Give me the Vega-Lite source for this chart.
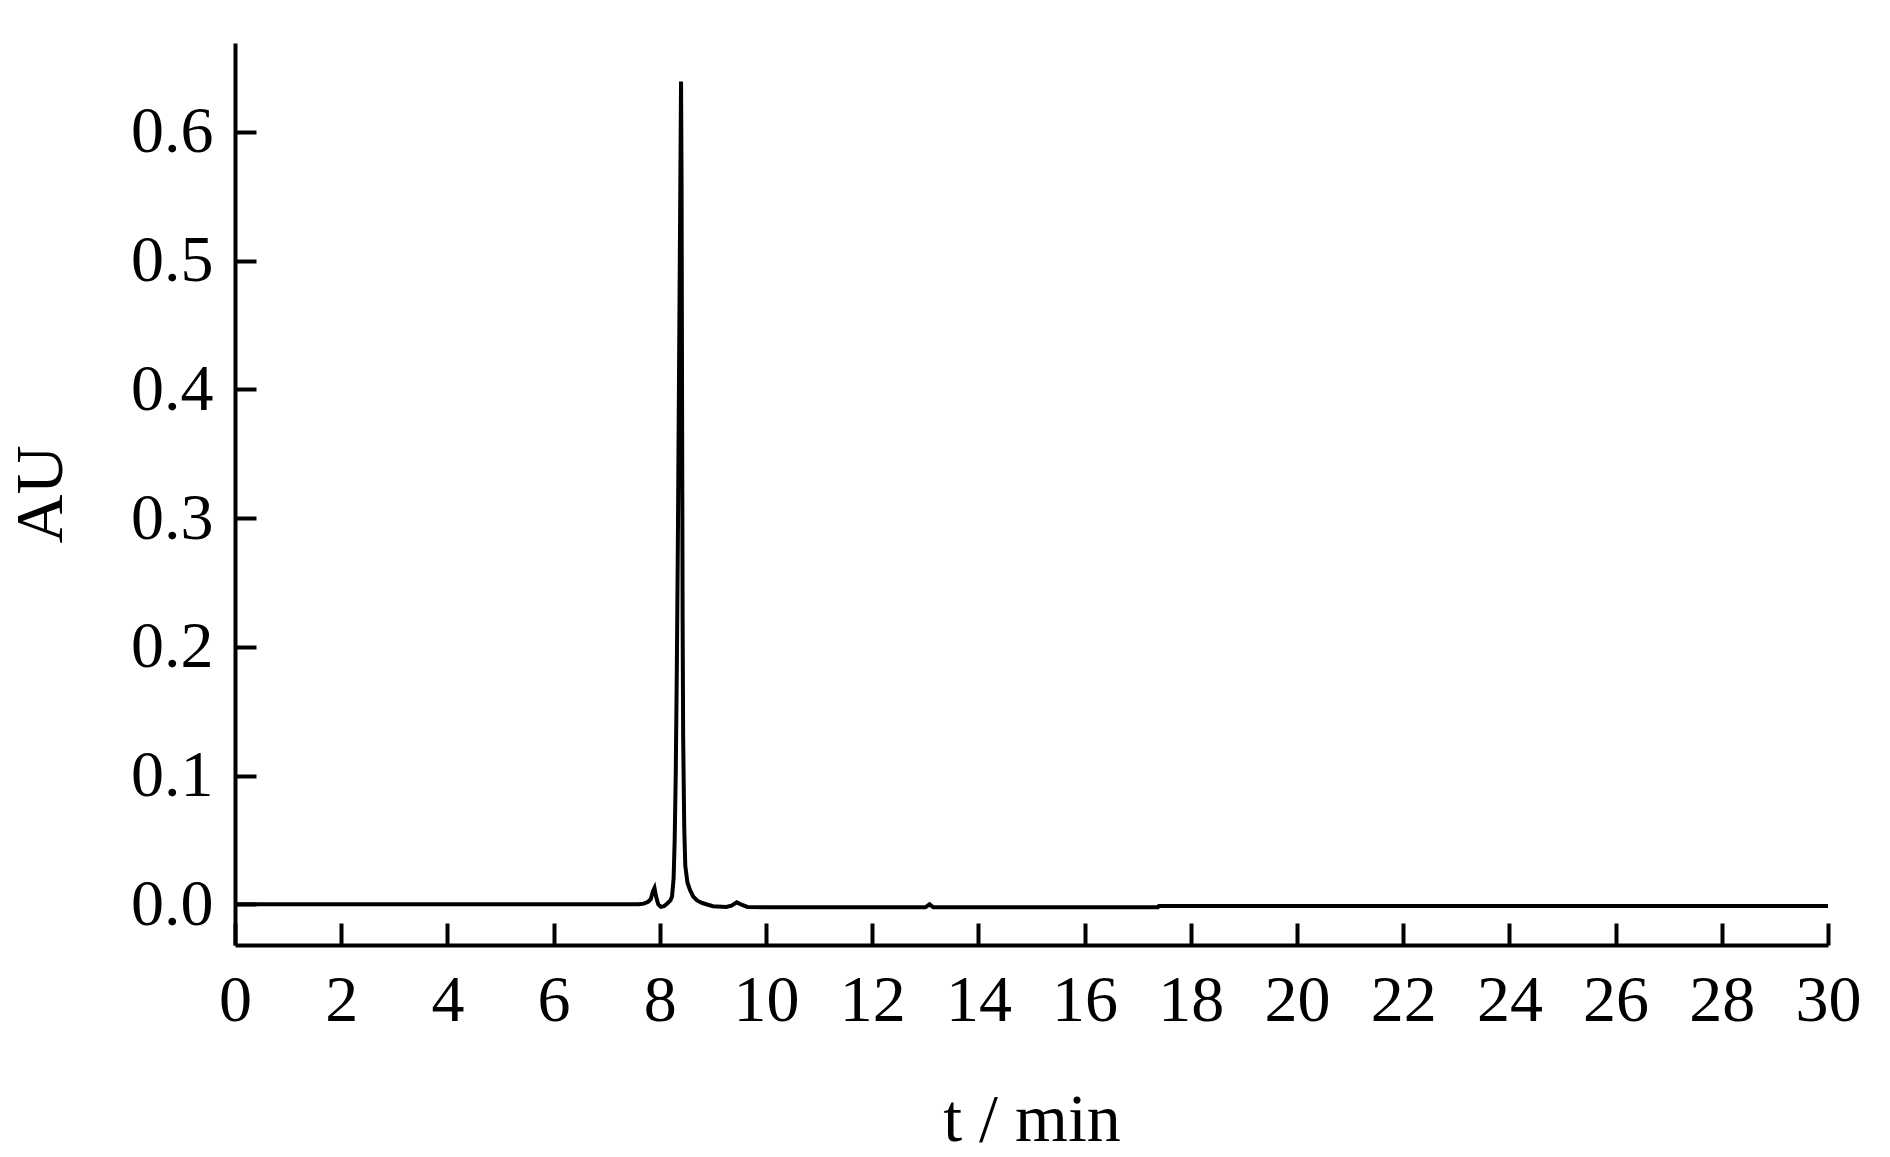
{
  "$schema": "https://vega.github.io/schema/vega-lite/v6.json",
  "autosize": {"type": "none"},
  "width": 1593,
  "height": 902,
  "padding": {"left": 235, "top": 43, "right": 62, "bottom": 212},
  "background": "white",
  "config": {
    "view": {"stroke": null},
    "font": "Liberation Serif",
    "axis": {
      "grid": false,
      "domainColor": "black",
      "domainWidth": 4,
      "tickColor": "black",
      "tickWidth": 4,
      "labelColor": "black",
      "titleColor": "black",
      "labelFont": "Liberation Serif",
      "titleFont": "Liberation Serif",
      "labelFontSize": 66,
      "titleFontSize": 68,
      "titleFontWeight": "normal"
    }
  },
  "data": {
    "values": [
      {"t": 0, "au": 0},
      {"t": 2, "au": 0},
      {"t": 4, "au": 0},
      {"t": 6, "au": 0},
      {"t": 7.6, "au": 0},
      {"t": 7.7, "au": 0.0005},
      {"t": 7.78, "au": 0.002},
      {"t": 7.83, "au": 0.004},
      {"t": 7.87, "au": 0.01},
      {"t": 7.9, "au": 0.0127},
      {"t": 7.93, "au": 0.006},
      {"t": 7.97, "au": 0.0},
      {"t": 8.02, "au": -0.002},
      {"t": 8.08, "au": -0.0015},
      {"t": 8.15, "au": 0.001},
      {"t": 8.2, "au": 0.003},
      {"t": 8.23, "au": 0.006},
      {"t": 8.26, "au": 0.02},
      {"t": 8.28, "au": 0.05},
      {"t": 8.3, "au": 0.1},
      {"t": 8.32, "au": 0.18},
      {"t": 8.34, "au": 0.28},
      {"t": 8.36, "au": 0.4},
      {"t": 8.38, "au": 0.52},
      {"t": 8.4, "au": 0.639},
      {"t": 8.41, "au": 0.56},
      {"t": 8.42, "au": 0.38},
      {"t": 8.43, "au": 0.22},
      {"t": 8.44, "au": 0.13},
      {"t": 8.46, "au": 0.06},
      {"t": 8.48, "au": 0.03},
      {"t": 8.52, "au": 0.017},
      {"t": 8.57, "au": 0.011},
      {"t": 8.63, "au": 0.006},
      {"t": 8.7, "au": 0.003},
      {"t": 8.8, "au": 0.001},
      {"t": 9.0, "au": -0.0015},
      {"t": 9.25, "au": -0.002},
      {"t": 9.35, "au": -0.001},
      {"t": 9.45, "au": 0.0015},
      {"t": 9.55, "au": -0.0005},
      {"t": 9.65, "au": -0.002},
      {"t": 10, "au": -0.0023},
      {"t": 12, "au": -0.0023},
      {"t": 13.0, "au": -0.0023},
      {"t": 13.08, "au": 0.0},
      {"t": 13.15, "au": -0.0023},
      {"t": 15, "au": -0.0023},
      {"t": 17.38, "au": -0.0023},
      {"t": 17.4, "au": -0.0013},
      {"t": 20, "au": -0.0013},
      {"t": 25, "au": -0.0013},
      {"t": 30, "au": -0.0013}
    ]
  },
  "mark": {"type": "line", "color": "black", "strokeWidth": 4, "interpolate": "linear"},
  "encoding": {
    "x": {
      "field": "t",
      "type": "quantitative",
      "scale": {"domain": [0, 30], "nice": false, "zero": false},
      "axis": {
        "title": "t / min",
        "values": [0, 2, 4, 6, 8, 10, 12, 14, 16, 18, 20, 22, 24, 26, 28, 30],
        "format": "d",
        "tickSize": -22,
        "labelPadding": 45,
        "titlePadding": 53,
        "labelFlush": false,
        "labelOverlap": false
      }
    },
    "y": {
      "field": "au",
      "type": "quantitative",
      "scale": {"domain": [-0.0316, 0.669], "nice": false, "zero": false},
      "axis": {
        "title": "AU",
        "values": [0, 0.1, 0.2, 0.3, 0.4, 0.5, 0.6],
        "format": ".1f",
        "tickSize": -21,
        "labelPadding": 43,
        "titlePadding": 55,
        "labelFlush": false,
        "labelOverlap": false
      }
    }
  }
}
